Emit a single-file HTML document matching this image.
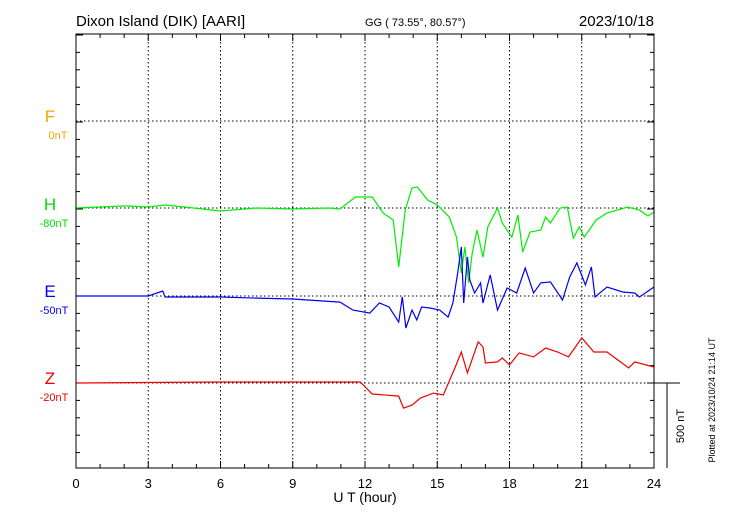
<!DOCTYPE html>
<html><head><meta charset="utf-8"><style>
body{margin:0;background:#fff;}
svg{display:block;font-family:"Liberation Sans",sans-serif;}
</style></head><body>
<svg id="chart" width="730" height="520" viewBox="0 0 730 520">
<text x="76" y="26" font-size="15">Dixon Island (DIK)  [AARI]</text>
<text x="365" y="26" font-size="11">GG ( 73.55°,  80.57°)</text>
<text x="654" y="26" font-size="15" text-anchor="end">2023/10/18</text>
<g id="grid"></g>
<g id="series"></g>
<rect x="76" y="34" width="578" height="434" fill="none" stroke="#000" stroke-width="1"/>
<text x="50" y="122" font-size="17" fill="#f0a800" text-anchor="middle">F</text>
<text x="58" y="139" font-size="11" fill="#f0a800" text-anchor="middle">0nT</text>
<text x="50" y="210" font-size="17" fill="#00dd00" text-anchor="middle">H</text>
<text x="54" y="227" font-size="11" fill="#00dd00" text-anchor="middle">-80nT</text>
<text x="50" y="297" font-size="17" fill="#0000ee" text-anchor="middle">E</text>
<text x="54" y="314" font-size="11" fill="#0000ee" text-anchor="middle">-50nT</text>
<text x="50" y="384" font-size="17" fill="#ee0000" text-anchor="middle">Z</text>
<text x="54" y="401" font-size="11" fill="#ee0000" text-anchor="middle">-20nT</text>
<text x="365" y="502" font-size="14" text-anchor="middle">U T (hour)</text>
<line x1="654" y1="383" x2="680" y2="383" stroke="#000"/>
<line x1="667" y1="383" x2="667" y2="468" stroke="#000"/>
<text transform="translate(684,426) rotate(-90)" font-size="11" text-anchor="middle">500 nT</text>
<text transform="translate(715,400) rotate(-90)" font-size="9" text-anchor="middle">Plotted at 2023/10/24 21:14 UT</text>
</svg>
<script>
const xTicks=[0,3,6,9,12,15,18,21,24];
const hT=[0,1,2,3,3.7,4.5,6,7.5,9,10.5,10.96,11.6,12.3,12.75,13.17,13.4,13.67,13.95,14.17,14.6,15,15.5,15.8,16,16.15,16.3,16.45,16.65,16.9,17.1,17.5,17.7,18.1,18.35,18.55,18.85,19.3,19.5,19.7,20.1,20.4,20.65,20.9,21.1,21.6,22.05,22.9,23.4,23.75,24];
const hV=[0,6,12,6,17,6,-17,0,-6,0,-6,63,63,-29,-69,-339,-12,115,121,46,17,-52,-167,-374,-224,-431,-259,-127,-282,-109,0,-86,-167,-40,-253,-138,-127,-52,-86,0,6,-173,-109,-167,-69,-29,6,-12,-46,-23];
const eT=[0,1.5,3,3.6,3.7,5,6,7.5,9,10.96,11.5,12.2,12.6,13,13.4,13.55,13.7,13.95,14.15,14.35,14.7,15.1,15.45,15.65,15.85,16,16.1,16.25,16.35,16.55,16.8,16.9,17.2,17.5,17.9,18.3,18.65,19,19.3,19.7,20.2,20.5,20.8,21.15,21.4,21.55,22.05,22.7,23.2,23.4,24];
const eV=[0,0,0,29,-6,-6,-6,-12,-17,-35,-81,-98,-40,-63,-150,-6,-184,-81,-138,-63,-69,-81,-121,-40,132,282,-40,224,92,17,75,-40,121,-81,46,17,161,17,75,81,-23,109,190,63,167,-6,52,23,17,-6,52];
const zT=[0,6,9,11.6,11.8,12.3,13.4,13.6,13.95,14.3,14.85,15.25,15.75,16,16.25,16.7,16.9,17,17.5,17.7,18,18.4,19,19.5,20,20.45,21,21.5,22.05,22.5,22.95,23.2,24];
const zV=[0,6,6,6,6,-63,-75,-144,-127,-86,-58,-69,92,178,58,236,207,115,121,144,104,173,150,201,178,150,259,178,178,132,86,121,92];
const NS='http://www.w3.org/2000/svg';
const X0=76,X1=654,NT=87/500;
const xs=h=>X0+(X1-X0)*h/24;
const ys=(base,v)=>base-v*NT;
const grid=document.getElementById('grid'),ser=document.getElementById('series'),svg=document.getElementById('chart');
function mk(tag,attrs,parent){const e=document.createElementNS(NS,tag);for(const k in attrs)e.setAttribute(k,attrs[k]);parent.appendChild(e);return e;}
xTicks.forEach(t=>{
  if(t>0&&t<24){const l=mk('line',{x1:xs(t),x2:xs(t),y1:34,y2:468,stroke:'#000','stroke-dasharray':'1.5,2.5'},grid);
  
  }
  const tx=mk('text',{x:xs(t),y:488,'font-size':13,'text-anchor':'middle'},svg);tx.textContent=t;
  
  
});
for(let h=1;h<24;h++){
  const len=(h%3===0)?7:4;
  mk('line',{x1:xs(h),x2:xs(h),y1:34,y2:34+len,stroke:'#000'},grid);
  mk('line',{x1:xs(h),x2:xs(h),y1:468,y2:468-len,stroke:'#000'},grid);
}
[121,208,296,383].forEach(b=>{
  const l=mk('line',{x1:X0,x2:X1,y1:b,y2:b,stroke:'#000','stroke-dasharray':'1.5,2.5'},grid);
  
  
});
for(let y=383-17.4*20;y<=468.5;y+=17.4){
  if(y<34)continue;
  const big=Math.abs(((383-y)/17.4)%5)<0.01;
  mk('line',{x1:X0,x2:X0+(big?7:4),y1:y,y2:y,stroke:'#000'},grid);
  mk('line',{x1:X1,x2:X1-(big?7:4),y1:y,y2:y,stroke:'#000'},grid);
}
function line(T,V,base,color,name){
  const d=T.map((t,i)=>(i?'L':'M')+xs(t).toFixed(1)+','+ys(base,V[i]).toFixed(1)).join('');
  const p=mk('path',{d:d,fill:'none',stroke:color,'stroke-width':1.2},ser);
  
  
}
line(hT,hV,208,'#00ee00','h-series');
line(eT,eV,296,'#0000ee','e-series');
line(zT,zV,383,'#ee0000','z-series');
</script>
</body></html>
